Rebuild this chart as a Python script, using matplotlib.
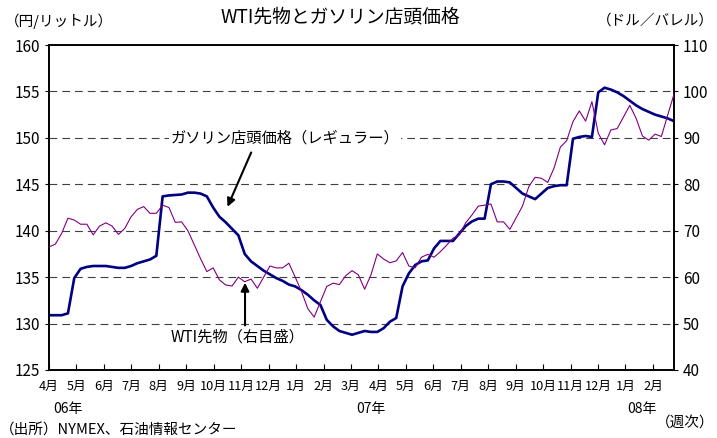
import numpy as np
import matplotlib
matplotlib.use("Agg")
import matplotlib.pyplot as plt

plt.rcParams['font.family'] = ['Noto Sans CJK JP', 'DejaVu Sans']

# weekly data, Apr 2006 - Feb 2008
gasoline = [130.9, 130.9, 130.9, 131.1, 134.9, 135.9, 136.1, 136.2, 136.2, 136.2,
            136.1, 136.0, 136.0, 136.2, 136.5, 136.7, 136.9, 137.3, 143.7, 143.8,
            143.85, 143.9, 144.1, 144.1, 144.0, 143.7, 142.5, 141.5, 140.9, 140.2,
            139.5, 137.5, 136.7, 136.2, 135.7, 135.3, 134.9, 134.6, 134.2, 134.0,
            133.6, 133.1, 132.5, 132.0, 130.4, 129.7, 129.2, 129.0, 128.8, 129.0,
            129.2, 129.1, 129.1, 129.5, 130.2, 130.6, 134.0, 135.4, 136.3, 136.7,
            136.8, 138.1, 138.9, 138.9, 138.9, 139.7, 140.5, 141.0, 141.3, 141.3,
            145.0, 145.3, 145.3, 145.2, 144.6, 144.0, 143.7, 143.4, 144.0, 144.6,
            144.8, 144.9, 144.9, 149.9, 150.1, 150.2, 150.1, 154.9, 155.4, 155.2,
            154.9, 154.5, 154.0, 153.5, 153.1, 152.8, 152.5, 152.3, 152.1, 151.8]

wti = [66.5, 67.1, 69.4, 72.7, 72.3, 71.4, 71.4, 69.1, 71.0, 71.7,
       71.0, 69.2, 70.5, 73.0, 74.6, 75.2, 73.75, 73.75, 75.5, 75.0,
       71.8, 71.9, 70.0, 67.0, 64.0, 61.2, 62.0, 59.4, 58.3, 58.1,
       60.0, 59.0, 59.6, 57.6, 60.0, 62.4, 62.0, 62.0, 63.0, 60.0,
       56.9, 53.2, 51.4, 54.7, 58.0, 58.7, 58.4, 60.3, 61.4, 60.5,
       57.4, 60.5, 65.0, 63.9, 63.1, 63.5, 65.3, 62.4, 62.0, 64.3,
       64.9, 64.3, 65.5, 66.9, 68.4, 69.1, 71.7, 73.4, 75.3, 75.5,
       75.75, 71.9, 71.9, 70.3, 72.8, 75.3, 79.5, 81.5, 81.3, 80.4,
       83.5, 88.0, 89.4, 93.5, 95.8, 93.6, 97.8, 91.0, 88.5, 91.7,
       92.0, 94.5, 97.0, 94.2, 90.4, 89.5, 90.8, 90.3, 94.9, 99.4]

month_labels = ['4月', '5月', '6月', '7月', '8月', '9月', '10月', '11月', '12月', '1月', '2月', '3月',
                '4月', '5月', '6月', '7月', '8月', '9月', '10月', '11月', '12月', '1月', '2月']
year_labels = ['06年', '07年', '08年']
year_pos = [3.0, 51.0, 94.0]

weeks_per_month = 52.18 / 12

fig = plt.figure(figsize=(7.17, 4.38), dpi=100)
ax = fig.add_axes([49/717, 1-370/438, 625/717, 325/438])
ax2 = ax.twinx()

x = np.arange(len(gasoline))

for v in [130, 135, 140, 145, 150, 155]:
    ax.axhline(v, color='#404040', lw=0.8, ls=(0, (7, 4.5)), zorder=1)

ax.plot(x, gasoline, color='#000080', lw=1.9, zorder=3)
ax2.plot(np.arange(len(wti)), wti, color='#800080', lw=0.8, zorder=3)

ax.set_xlim(0, len(gasoline) - 1)
ax.set_ylim(125, 160)
ax.set_yticks(np.arange(125, 161, 5))
ax2.set_ylim(40, 110)
ax2.set_yticks(np.arange(40, 111, 10))

ticks = [k * weeks_per_month for k in range(len(month_labels))]
ax.set_xticks(ticks)
ax.set_xticklabels(month_labels)
ax.tick_params(axis='x', direction='in', length=4, pad=7, labelsize=9.2)
ax.tick_params(axis='y', direction='out', length=3, labelsize=11)
ax2.tick_params(axis='y', direction='out', length=3, labelsize=11)

for s in ax.spines.values():
    s.set_linewidth(1.2)
for s in ax2.spines.values():
    s.set_linewidth(1.2)

for lab, p in zip(year_labels, year_pos):
    ax.text(p, -0.12, lab, transform=ax.get_xaxis_transform(), ha='center', va='center', fontsize=10)

# annotations
ax.text(37.4, 150.0, 'ガソリン店頭価格（レギュラー）', ha='center', va='center', fontsize=11,
        bbox=dict(facecolor='white', edgecolor='none', pad=1), zorder=4)
ax.annotate('', xy=(28.1, 142.3), xytext=(32.2, 148.7),
            arrowprops=dict(arrowstyle='-|>', color='black', lw=1.5, mutation_scale=12), zorder=5)
ax.text(29.8, 128.5, 'WTI先物（右目盛）', ha='center', va='center', fontsize=11, zorder=4)
ax.annotate('', xy=(31.05, 134.7), xytext=(31.05, 129.5),
            arrowprops=dict(arrowstyle='-|>', color='black', lw=1.5, mutation_scale=12), zorder=5)

fig.text(340/717, 1-17/438, 'WTI先物とガソリン店頭価格', ha='center', va='center', fontsize=13.5)
fig.text(5/717, 1-21/438, '（円/リットル）', ha='left', va='center', fontsize=10.5)
fig.text(714/717, 1-21/438, '（ドル／バレル）', ha='right', va='center', fontsize=10.5)
fig.text(714/717, 1-424/438, '（週次）', ha='right', va='center', fontsize=10.5)
fig.text(0/717, 1-431/438, '（出所）NYMEX、石油情報センター', ha='left', va='center', fontsize=10.5)

fig.savefig('out.png', dpi=100)
